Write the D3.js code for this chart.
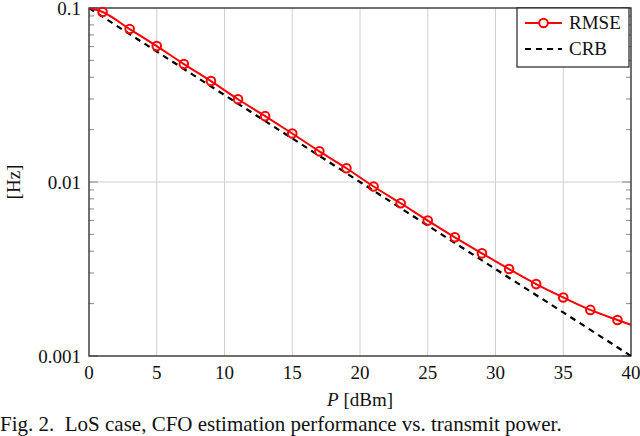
<!DOCTYPE html>
<html><head><meta charset="utf-8">
<script src="https://cdn.jsdelivr.net/npm/d3@7"></script>
<style>body{margin:0;background:#fff;} svg{display:block;} text{font-family:"Liberation Serif",serif;}</style>
</head><body><svg id="c" width="640" height="436"></svg>
<script>
const rmseX = [0,1,3,5,7,9,11,13,15,17,19,21,23,25,27,29,31,33,35,37,39,40];
const rmseY = [0.1,0.0948,0.0757,0.0604,0.0476,0.0380,0.0299,0.0239,0.0190,0.0150,0.0120,0.00942,0.00755,0.0060,0.00481,0.00389,0.00316,0.00259,0.00217,0.00184,0.00161,0.00151];
const crbX = [0,5,10,15,20,25,30,35,40];
const crbY = [0.1,0.0562,0.0316,0.0178,0.01,0.00562,0.00316,0.00178,0.001];
const xTicks = [0,5,10,15,20,25,30,35,40];
const yTicks = [0.1,0.01,0.001];
const yTickLabels = ["0.1","0.01","0.001"];
const seriesNames = ["RMSE","CRB"];

const svg = d3.select("#c");
const L=89, R=631, T=8, B=356;
const x = d3.scaleLinear().domain([0,40]).range([L,R]);
const y = d3.scaleLog().domain([0.001,0.1]).range([B,T]);

// grid
const g = svg.append("g");
g.selectAll(".gx").data(xTicks.slice(1,-1)).enter().append("line")
  .attr("x1",d=>x(d)).attr("x2",d=>x(d)).attr("y1",T).attr("y2",B)
  .attr("stroke","#d0d0d0").attr("stroke-width",1);
g.selectAll(".gy").data(yTicks.slice(1,-1)).enter().append("line")
  .attr("y1",d=>y(d)).attr("y2",d=>y(d)).attr("x1",L).attr("x2",R)
  .attr("stroke","#d0d0d0").attr("stroke-width",1);

// minor ticks
const minor=[];
[0.001,0.01].forEach(b=>{for(let k=2;k<=9;k++)minor.push(b*k);});
g.selectAll(".ml").data(minor).enter().append("line")
  .attr("x1",L).attr("x2",L+5).attr("y1",d=>y(d)).attr("y2",d=>y(d))
  .attr("stroke","#888").attr("stroke-width",1);
g.selectAll(".mr").data(minor).enter().append("line")
  .attr("x1",R-5).attr("x2",R).attr("y1",d=>y(d)).attr("y2",d=>y(d))
  .attr("stroke","#888").attr("stroke-width",1);
g.selectAll(".My").data(yTicks).enter().append("line")
  .attr("x1",L).attr("x2",L+9).attr("y1",d=>y(d)).attr("y2",d=>y(d))
  .attr("stroke","#888").attr("stroke-width",1);
g.selectAll(".MyR").data(yTicks).enter().append("line")
  .attr("x1",R-9).attr("x2",R).attr("y1",d=>y(d)).attr("y2",d=>y(d))
  .attr("stroke","#888").attr("stroke-width",1);

// axes box
svg.append("rect").attr("x",L).attr("y",T).attr("width",R-L).attr("height",B-T)
  .attr("fill","none").attr("stroke","#333").attr("stroke-width",1.4);

// tick labels
svg.selectAll(".xl").data(xTicks).enter().append("text")
  .attr("x",d=>x(d)).attr("y",B+23).attr("text-anchor","middle")
  .attr("font-size",19).attr("fill","#111").text(d=>d);
svg.selectAll(".yl").data(yTicks).enter().append("text")
  .attr("x",L-8).attr("y",(d)=>y(d)+7).attr("text-anchor","end")
  .attr("font-size",19).attr("fill","#111").text((d,i)=>yTickLabels[i]);

// axis labels
const xl = svg.append("text").attr("x",(L+R)/2).attr("y",406).attr("text-anchor","middle")
  .attr("font-size",19).attr("fill","#111");
xl.append("tspan").attr("font-style","italic").text("P");
xl.append("tspan").text(" [dBm]");
svg.append("text").attr("transform",`translate(20,${(T+B)/2}) rotate(-90)`)
  .attr("text-anchor","middle").attr("font-size",19).attr("fill","#111").text("[Hz]");

// caption
svg.append("text").attr("x",0).attr("y",431).attr("font-size",21).attr("fill","#111")
  .attr("xml:space","preserve").text("Fig. 2.  LoS case, CFO estimation performance vs. transmit power.");

// clip
svg.append("clipPath").attr("id","cp").append("rect").attr("x",L).attr("y",T).attr("width",R-L).attr("height",B-T);

// CRB
const crbData = crbX.map((v,i)=>[v,crbY[i]]);
svg.append("path").datum(crbData).attr("clip-path","url(#cp)")
  .attr("d",d3.line().x(d=>x(d[0])).y(d=>y(d[1])))
  .attr("fill","none").attr("stroke","#000").attr("stroke-width",2.2).attr("stroke-dasharray","6,5");

// RMSE
const rData = rmseX.map((v,i)=>[v,rmseY[i]]);
svg.append("path").datum(rData).attr("clip-path","url(#cp)")
  .attr("d",d3.line().curve(d3.curveMonotoneX).x(d=>x(d[0])).y(d=>y(d[1])))
  .attr("fill","none").attr("stroke","#f00").attr("stroke-width",2);
svg.selectAll(".mk").data(rData.filter(d=>d[0]%2===1)).enter().append("circle")
  .attr("cx",d=>x(d[0])).attr("cy",d=>y(d[1])).attr("r",4.3)
  .attr("fill","none").attr("stroke","#f00").attr("stroke-width",2);

// legend
const lg = svg.append("g");
lg.append("rect").attr("x",517).attr("y",T).attr("width",R-517-2).attr("height",59)
  .attr("fill","#fff").attr("stroke","#222").attr("stroke-width",1.2);
lg.append("line").attr("x1",525).attr("x2",562).attr("y1",23).attr("y2",23)
  .attr("stroke","#f00").attr("stroke-width",2);
lg.append("circle").attr("cx",543.5).attr("cy",23).attr("r",4.3)
  .attr("fill","#fff").attr("stroke","#f00").attr("stroke-width",2);
lg.append("line").attr("x1",525).attr("x2",562).attr("y1",49).attr("y2",49)
  .attr("stroke","#000").attr("stroke-width",2.2).attr("stroke-dasharray","6,5");
lg.selectAll(".lt").data(seriesNames).enter().append("text")
  .attr("x",569).attr("y",(d,i)=>29+i*26).attr("font-size",19).attr("fill","#111").text(d=>d);
</script></body></html>
